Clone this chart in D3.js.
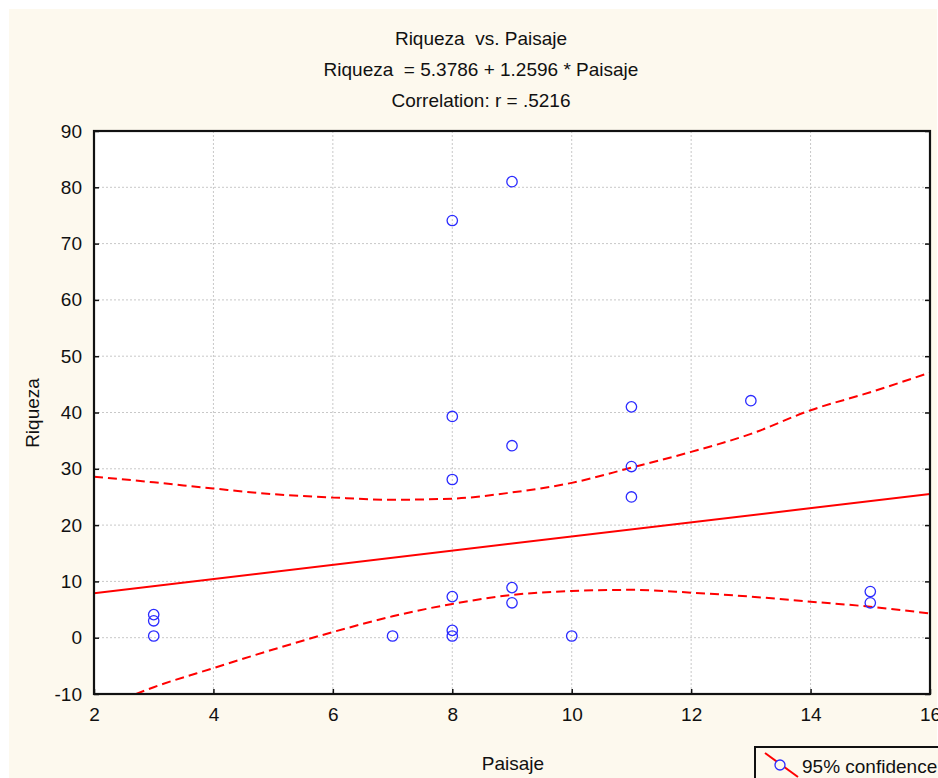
<!DOCTYPE html>
<html><head><meta charset="utf-8">
<script src="https://cdn.jsdelivr.net/npm/d3@7"></script>
<style>
html,body{margin:0;padding:0;background:#fff;}
text{font-family:"Liberation Sans",Arial,sans-serif;fill:#111;white-space:pre;}
</style></head>
<body>
<svg id="chart" width="938" height="778"></svg>
<script>
// Data
const paisaje = [3,3,3,7,8,8,8,8,8,8,9,9,9,9,10,11,11,11,13,15,15];
const riqueza = [4.1,3.0,0.3,0.3,74.1,39.3,28.1,7.3,1.3,0.3,81.0,34.1,8.9,6.2,0.3,41.0,30.4,25.0,42.1,8.2,6.2];
const bandX = [2,3,4,5,6,7,8,9,10,11,12,13,14,15,16];
const upper95 = [28.6,27.6,26.5,25.5,24.9,24.5,24.7,25.8,27.5,30.2,33.0,36.2,40.4,43.6,47.1];
const lowerX = [2.7,3,4,5,6,7,8,9,10,11,12,13,14,15,16];
const lower95 = [-10,-8.8,-5.4,-2.1,1.0,3.8,6.0,7.6,8.3,8.5,8.0,7.3,6.4,5.5,4.3];
const intercept = 5.3786, slope = 1.2596;
const xTicks = [2,4,6,8,10,12,14,16];
const yTicks = [-10,0,10,20,30,40,50,60,70,80,90];
const titleLines = ["Riqueza  vs. Paisaje","Riqueza  = 5.3786 + 1.2596 * Paisaje","Correlation: r = .5216"];

const FS = 19;
const svg = d3.select("#chart");
svg.append("rect").attr("x",9).attr("y",9).attr("width",928).attr("height",769).attr("fill","#fdf9ee");

const L=94, R=930, T=131, B=694;
const x = d3.scaleLinear().domain([2,16]).range([L,R]);
const y = d3.scaleLinear().domain([-10,90]).range([B,T]);

svg.append("rect").attr("x",L).attr("y",T).attr("width",R-L).attr("height",B-T).attr("fill","#fff");

// grid
const grid = svg.append("g").attr("stroke","#c8c8c8").attr("stroke-width",1).attr("stroke-dasharray","2,2");
xTicks.slice(1,-1).forEach(t=>grid.append("line").attr("x1",x(t)).attr("x2",x(t)).attr("y1",T).attr("y2",B));
yTicks.slice(1,-1).forEach(t=>grid.append("line").attr("y1",y(t)).attr("y2",y(t)).attr("x1",L).attr("x2",R));

// titles
titleLines.forEach((s,i)=>svg.append("text").attr("x",481).attr("y",45+i*31).attr("text-anchor","middle").attr("font-size",FS).text(s));

svg.append("clipPath").attr("id","pc").append("rect").attr("x",L).attr("y",T).attr("width",R-L).attr("height",B-T);
const plot = svg.append("g").attr("clip-path","url(#pc)");

// regression line
plot.append("line").attr("x1",x(2)).attr("y1",y(intercept+slope*2)).attr("x2",x(16)).attr("y2",y(intercept+slope*16))
  .attr("stroke","#ff0000").attr("stroke-width",2);

const line = d3.line().curve(d3.curveMonotoneX);
plot.append("path").attr("d",line(bandX.map((v,i)=>[x(v),y(upper95[i])])))
  .attr("fill","none").attr("stroke","#ff0000").attr("stroke-width",2).attr("stroke-dasharray","9,5");
plot.append("path").attr("d",line(lowerX.map((v,i)=>[x(v),y(lower95[i])])))
  .attr("fill","none").attr("stroke","#ff0000").attr("stroke-width",2).attr("stroke-dasharray","9,5");

// points
plot.selectAll("circle.p").data(paisaje).enter().append("circle")
  .attr("cx",(d)=>x(d)).attr("cy",(d,i)=>y(riqueza[i])).attr("r",5.2)
  .attr("fill","none").attr("stroke","#2b2bff").attr("stroke-width",1.3);

// axes
const yAxis = d3.axisLeft(y).tickValues(yTicks).tickSize(-5).tickPadding(12).tickFormat(d=>String(d));
const gy = svg.append("g").attr("transform",`translate(${L},0)`).call(yAxis);
gy.select(".domain").remove();
gy.selectAll("text").attr("font-size",FS).attr("font-family","Liberation Sans, Arial, sans-serif").attr("fill","#111");
gy.selectAll("line").attr("stroke","#111").attr("stroke-width",1.5);

const yAxisR = d3.axisRight(y).tickValues(yTicks).tickSize(-5).tickFormat("");
const gyr = svg.append("g").attr("transform",`translate(${R},0)`).call(yAxisR);
gyr.select(".domain").remove();
gyr.selectAll("line").attr("stroke","#111").attr("stroke-width",1.5);

const xAxis = d3.axisBottom(x).tickValues(xTicks).tickSize(-5).tickPadding(14).tickFormat(d=>String(d));
const gx = svg.append("g").attr("transform",`translate(0,${B})`).call(xAxis);
gx.select(".domain").remove();
gx.selectAll("text").attr("font-size",FS).attr("font-family","Liberation Sans, Arial, sans-serif").attr("fill","#111");
gx.selectAll("line").attr("stroke","#111").attr("stroke-width",1.5);

// frame
svg.append("rect").attr("x",L).attr("y",T).attr("width",R-L).attr("height",B-T)
  .attr("fill","none").attr("stroke","#111").attr("stroke-width",2.2);

// axis titles
svg.append("text").attr("x",513).attr("y",770).attr("text-anchor","middle").attr("font-size",FS).text("Paisaje");
svg.append("text").attr("transform","translate(39,413) rotate(-90)").attr("text-anchor","middle").attr("font-size",FS).text("Riqueza");

// legend
const lg = svg.append("g");
lg.append("rect").attr("x",755).attr("y",747).attr("width",200).attr("height",50).attr("fill","#fdf9ee").attr("stroke","#111").attr("stroke-width",2);
lg.append("line").attr("x1",765).attr("y1",753).attr("x2",798).attr("y2",777).attr("stroke","#ff0000").attr("stroke-width",2);
lg.append("circle").attr("cx",780).attr("cy",765).attr("r",5).attr("fill","#fdf9ee").attr("stroke","#2b2bff").attr("stroke-width",1.3);
lg.append("text").attr("x",802).attr("y",773).attr("font-size",FS).text("95% confidence");
</script>
</body></html>
